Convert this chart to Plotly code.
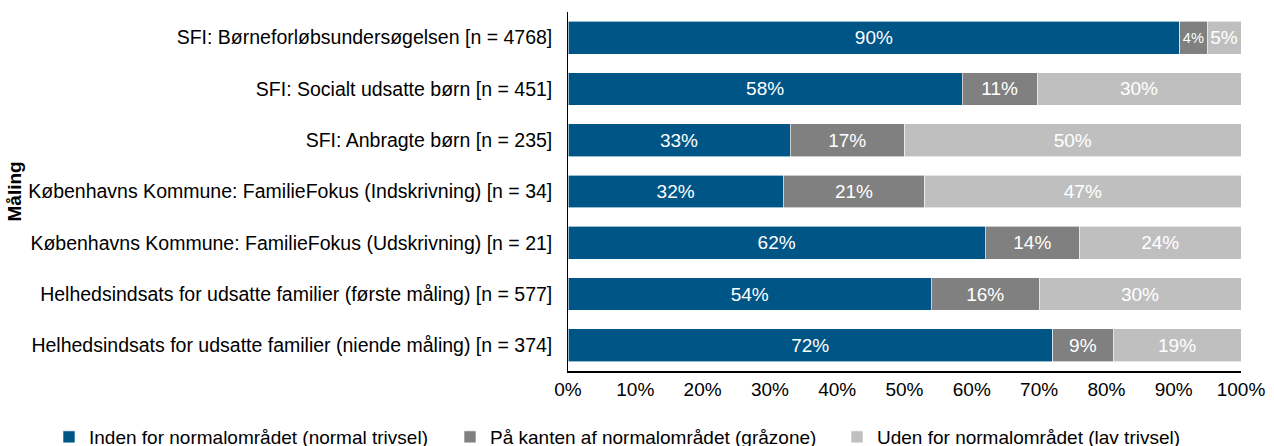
import plotly.graph_objects as go

categories = [
    "SFI: Børneforløbsundersøgelsen [n = 4768]",
    "SFI: Socialt udsatte børn [n = 451]",
    "SFI: Anbragte børn [n = 235]",
    "Københavns Kommune: FamilieFokus (Indskrivning) [n = 34]",
    "Københavns Kommune: FamilieFokus (Udskrivning) [n = 21]",
    "Helhedsindsats for udsatte familier (første måling) [n = 577]",
    "Helhedsindsats for udsatte familier (niende måling) [n = 374]",
]
normal = [90, 58, 33, 32, 62, 54, 72]
graazone = [4, 11, 17, 21, 14, 16, 9]
lav = [5, 30, 50, 47, 24, 30, 19]

series_names = [
    "Inden for normalområdet (normal trivsel)",
    "På kanten af normalområdet (gråzone)",
    "Uden for normalområdet (lav trivsel)",
]
colors = ["#005587", "#808080", "#BFBFBF"]
x_ticks = [0, 10, 20, 30, 40, 50, 60, 70, 80, 90, 100]

FONT = "Liberation Sans, Arial, sans-serif"

# figure is a bit taller than the window so the legend box is not clipped
W, H = 1274, 462
legend_ids = ["legend", "legend2", "legend3"]
legend_x = [49, 450, 837]

fig = go.Figure()
for name, vals, col, lid in zip(series_names, [normal, graazone, lav], colors, legend_ids):
    fig.add_trace(go.Bar(
        y=categories, x=vals, name=name, orientation="h",
        marker=dict(color=col, line=dict(color="#ffffff", width=0.6)),
        text=vals, texttemplate="%{text}%", textposition="inside",
        insidetextanchor="middle", textangle=0,
        textfont=dict(color="white", size=19, family=FONT),
        legend=lid,
    ))

legend_common = dict(orientation="h", xref="container", yref="container",
                     xanchor="left", y=(H - 437) / H, yanchor="middle",
                     font=dict(size=19), bgcolor="rgba(0,0,0,0)")

fig.update_layout(
    barmode="stack", barnorm="percent", bargap=0.36,
    width=W, height=H,
    margin=dict(l=568, r=33, t=12, b=H - 371),
    paper_bgcolor="white", plot_bgcolor="white",
    font=dict(family=FONT, size=19, color="#000000"),
    xaxis=dict(range=[0, 100], tickvals=x_ticks,
               ticktext=[f"{v}%" for v in x_ticks],
               showgrid=False, zeroline=False, showline=True,
               linecolor="#000000", linewidth=1.5, ticks="",
               automargin=False,
               tickfont=dict(size=19, color="#000000")),
    yaxis=dict(autorange="reversed", showgrid=False, zeroline=False,
               showline=True, linecolor="#000000", linewidth=1,
               ticks="", ticksuffix="  ", automargin=False,
               tickfont=dict(size=19.5, color="#000000")),
    legend=dict(x=legend_x[0] / W, **legend_common),
    legend2=dict(x=legend_x[1] / W, **legend_common),
    legend3=dict(x=legend_x[2] / W, **legend_common),
    showlegend=True,
)
fig.add_annotation(text="<b>Måling</b>", textangle=-90, xref="paper",
                   yref="paper", x=(14 - 568) / 673, y=0.5, showarrow=False,
                   font=dict(size=19, family=FONT), xanchor="center",
                   yanchor="middle")
fig.write_html("out.html", config={"displayModeBar": False},
               post_script="document.body.style.margin='0';"
                           "document.body.style.overflow='hidden';")
